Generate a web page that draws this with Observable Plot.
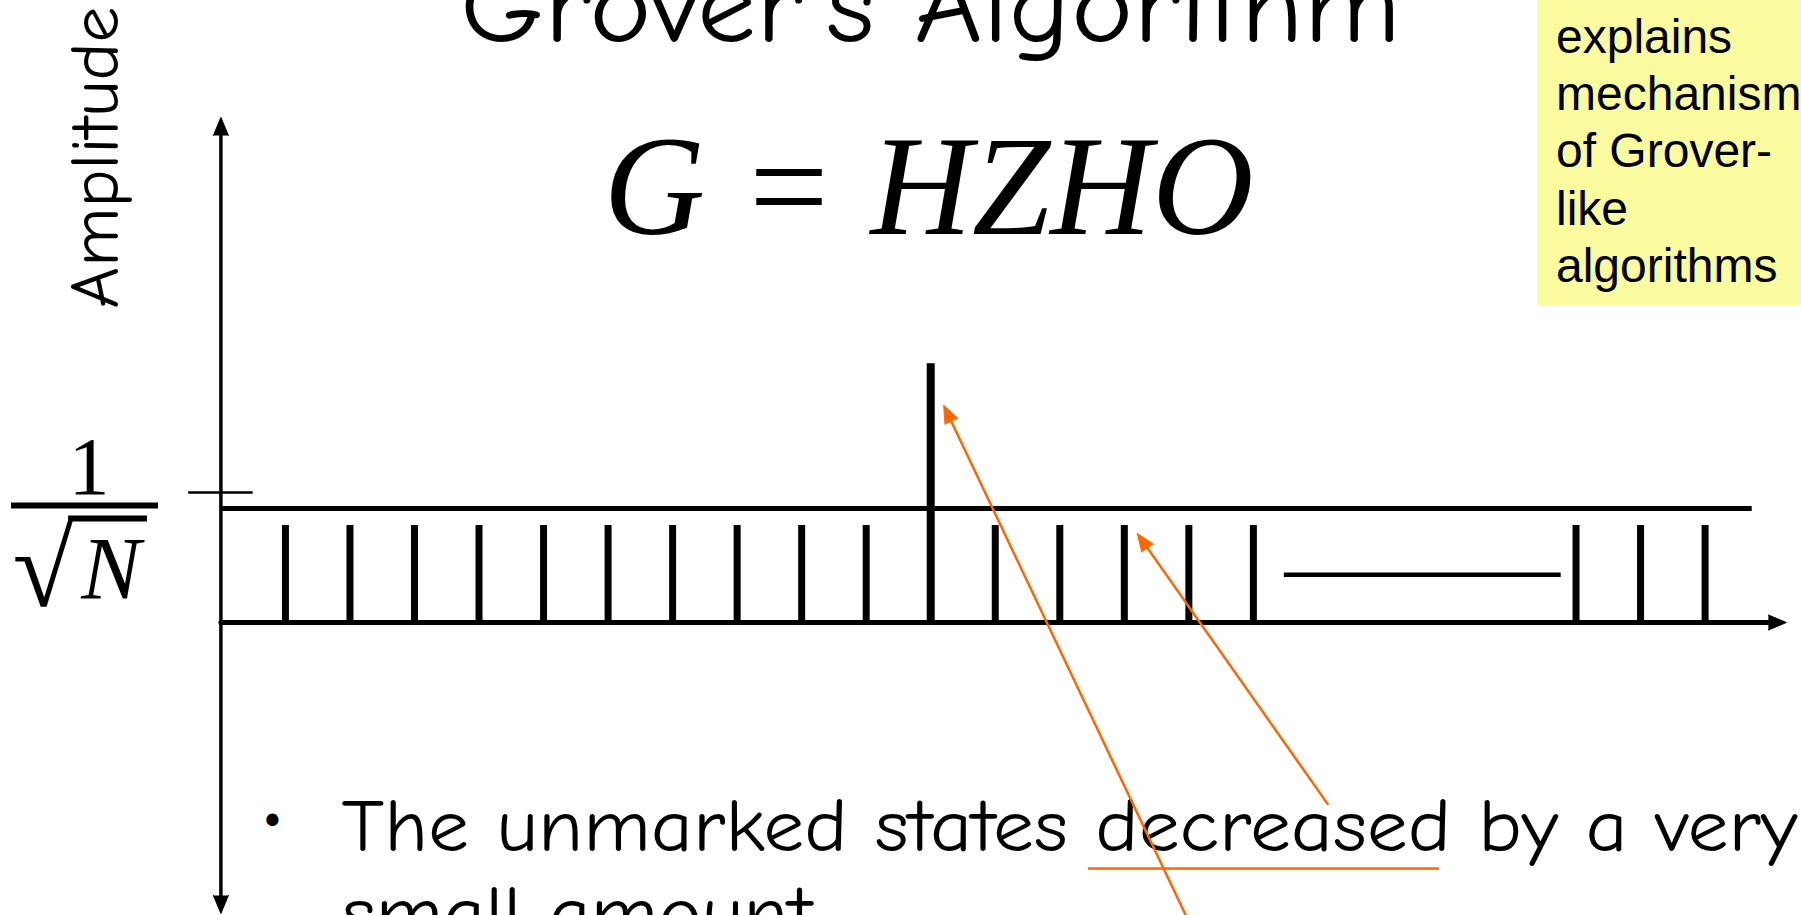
<!DOCTYPE html>
<html>
<head>
<meta charset="utf-8">
<script src="https://cdn.jsdelivr.net/npm/d3@7"></script>
<script src="https://cdn.jsdelivr.net/npm/@observablehq/plot@0.6"></script>
<style>
  html, body { margin: 0; padding: 0; background: #fff; overflow: hidden; }
  #wrap { position: relative; width: 1801px; height: 915px; overflow: hidden; }
  #wrap svg { position: absolute; left: 0; top: 0; display: block; }
  #note {
    position: absolute; left: 1537px; top: 0; width: 264px; height: 305px;
    background: #FAFA9E; box-sizing: border-box; padding: 7.7px 0 0 19px;
    font-family: "Liberation Sans", Arial, sans-serif; font-size: 48px;
    line-height: 57.3px; color: #000; white-space: nowrap; overflow: hidden;
  }
</style>
</head>
<body>
<div id="wrap"><div id="note"></div></div>
<script>
// ---------------- data ----------------
const states      = [1, 2, 3, 4, 5, 6, 7, 8, 9, 10, 11, 12, 13, 14, 15, 16, 21, 22, 23];
const amplitudes  = [0.746, 0.746, 0.746, 0.746, 0.746, 0.746, 0.746, 0.746, 0.746, 0.746,
                     1.99, 0.746, 0.746, 0.746, 0.746, 0.746, 0.746, 0.746, 0.746];
const markedState = 11;
const meanAmplitude = 0.877;          // horizontal "mean" line
const initialAmplitude = 1;           // tick at 1/sqrt(N)
const ellipsisLevel = 0.367;          // "——" between state 16 and state 21
const tickNumerator = "1";
const tickRadical = "√";
const tickDenominator = "N";
const titleText = "Grover's Algorithm";
const formulaText = "G = HZHO";
const yLabel = "Amplitude";
const bulletLines = ["The unmarked states decreased by a very", "small amount"];
const noteLines = ["explains", "mechanism", "of Grover-", "like", "algorithms"];

// ---------------- layout ----------------
const W = 1801, H = 915;
const xDomain = [-3.4155, 24.494];
const yDomain = [-2.2538, 4.7846];
const xAxisEnd = 24.26, yAxisTop = 3.885, yAxisBottom = -2.238;
const meanEnd = 23.73;
const black = "#000", orange = "#FF6600";
const comic = "'Comic Sans MS','Comic Neue','DejaVu Sans',sans-serif";
const serif = "'Liberation Serif','Times New Roman',serif";

const bars = states.map((s, i) => ({state: s, amp: amplitudes[i]}));
const xs = d3.scaleLinear(xDomain, [0, W]);
const ys = d3.scaleLinear(yDomain, [H, 0]);
const angleOf = (a) => Math.atan2(xs(a.x2) - xs(a.x1), -(ys(a.y2) - ys(a.y1))) * 180 / Math.PI;

const peakAmp = amplitudes[states.indexOf(markedState)];
const callouts = [
  {x1: 14.96, y1: -2.26, x2: markedState + 0.2, y2: peakAmp * 0.84},
  {x1: 17.15, y1: -1.395, x2: 14.2, y2: 0.685}
];
const axisLines = [
  {x1: 0, y1: yAxisBottom, x2: 0, y2: yAxisTop},
  {x1: 0, y1: 0, x2: xAxisEnd, y2: 0}
];
const axisHeads = [
  {x: 0, y: yAxisTop, rotate: 0},
  {x: 0, y: yAxisBottom, rotate: 180},
  {x: xAxisEnd, y: 0, rotate: 90}
];
const calloutHeads = callouts.map(c => ({x: c.x2, y: c.y2, rotate: angleOf(c)}));

const svg = Plot.plot({
  width: W, height: H, margin: 0,
  style: {overflow: "hidden", background: "transparent"},
  x: {domain: xDomain, axis: null},
  y: {domain: yDomain, axis: null},
  marks: [
    // axes
    Plot.arrow(axisLines.slice(0, 1), {x1: "x1", y1: "y1", x2: "x2", y2: "y2", headLength: 0, insetStart: 8, insetEnd: 8, stroke: black, strokeWidth: 3.5}),
    Plot.arrow(axisLines.slice(1), {x1: "x1", y1: "y1", x2: "x2", y2: "y2", headLength: 0, insetEnd: 8, stroke: black, strokeWidth: 5}),
    Plot.vector(axisHeads, {x: "x", y: "y", rotate: "rotate", length: 18, r: 7.5, shape: "spike", anchor: "end", fill: black, stroke: black, strokeWidth: 1}),
    // tick at 1/sqrt(N)
    Plot.ruleY([initialAmplitude], {x1: -0.5, x2: 0.5, stroke: black, strokeWidth: 2.5}),
    // mean line
    Plot.ruleY([meanAmplitude], {x1: 0, x2: meanEnd, stroke: black, strokeWidth: 5}),
    // amplitude bars
    Plot.ruleX(bars.filter(d => d.state !== markedState), {x: "state", y1: 0, y2: "amp", stroke: black, strokeWidth: 7}),
    Plot.ruleX(bars.filter(d => d.state === markedState), {x: "state", y1: 0, y2: "amp", stroke: black, strokeWidth: 8}),
    // ellipsis dash
    Plot.ruleY([ellipsisLevel], {x1: 16.48, x2: 20.77, stroke: black, strokeWidth: 4.5}),
    // tick label 1/sqrt(N)
    Plot.text([initialAmplitude], {x: 0, y: d => d, text: () => tickNumerator, dx: -132, dy: 1, textAnchor: "middle", lineAnchor: "bottom", fontSize: 82, fontFamily: serif, fill: black}),
    Plot.ruleY([initialAmplitude], {x1: -3.245, x2: -0.967, dy: 13, stroke: black, strokeWidth: 6}),
    Plot.text([initialAmplitude], {x: 0, y: d => d, text: () => tickRadical, dx: -208.5, dy: 113, textAnchor: "start", lineAnchor: "bottom", fontSize: 112, fontWeight: "bold", fontFamily: serif, fill: black}),
    Plot.ruleY([initialAmplitude], {x1: -2.36, x2: -1.137, dy: 26, stroke: black, strokeWidth: 6}),
    Plot.text([initialAmplitude], {x: 0, y: d => d, text: () => tickDenominator, dx: -110, dy: 105, textAnchor: "middle", lineAnchor: "bottom", fontSize: 89, fontStyle: "italic", fontFamily: serif, fill: black}),
    // texts
    Plot.text([titleText], {text: d => d, frameAnchor: "top-left", dx: 930, dy: 40, textAnchor: "middle", lineAnchor: "bottom", fontSize: 108, fontFamily: comic, fill: black}),
    Plot.text([formulaText], {text: d => d, frameAnchor: "top-left", dx: 928, dy: 233, textAnchor: "middle", lineAnchor: "bottom", fontSize: 142, fontStyle: "italic", fontFamily: serif, fill: black}),
    Plot.text([yLabel], {text: d => d, frameAnchor: "top-left", dx: 117, dy: 157, rotate: -90, textAnchor: "middle", lineAnchor: "bottom", fontSize: 68, fontFamily: comic, fill: black}),
    Plot.text(["•"], {text: d => d, frameAnchor: "top-left", dx: 272, dy: 822, textAnchor: "middle", lineAnchor: "middle", fontSize: 42, fontFamily: "'DejaVu Sans',sans-serif", fill: black}),
    Plot.text([bulletLines[0]], {text: d => d, frameAnchor: "top-left", dx: 341, dy: 850, textAnchor: "start", lineAnchor: "bottom", fontSize: 75, fontFamily: comic, fill: black}),
    Plot.text([bulletLines[1]], {text: d => d, frameAnchor: "top-left", dx: 341, dy: 937, textAnchor: "start", lineAnchor: "bottom", fontSize: 75, fontFamily: comic, fill: black}),
    // orange callouts
    Plot.ruleY([-1.892], {x1: 13.445, x2: 18.884, stroke: orange, strokeWidth: 2.5}),
    Plot.arrow(callouts, {x1: "x1", y1: "y1", x2: "x2", y2: "y2", headLength: 0, insetEnd: 8, stroke: orange, strokeWidth: 2.5}),
    Plot.vector(calloutHeads, {x: "x", y: "y", rotate: "rotate", length: 18, r: 7, shape: "spike", anchor: "end", fill: orange, stroke: orange, strokeWidth: 1})
  ]
});

const wrap = document.getElementById("wrap");
wrap.prepend(svg);
document.getElementById("note").innerHTML = noteLines.map(l => `<div>${l}</div>`).join("");

// fit text widths to the reference
const fits = {[titleText]: 941, [formulaText]: 650, [yLabel]: 302};
let line1 = null, line2 = null;
svg.querySelectorAll("text").forEach(t => {
  const s = t.textContent;
  if (fits[s]) { t.setAttribute("textLength", fits[s]); t.setAttribute("lengthAdjust", "spacingAndGlyphs"); }
  if (s === bulletLines[0]) line1 = t;
  if (s === bulletLines[1]) line2 = t;
});
if (line1 && line2) {
  const k = 1456 / line1.getComputedTextLength();
  const w2 = line2.getComputedTextLength() * k;
  line1.setAttribute("textLength", 1456); line1.setAttribute("lengthAdjust", "spacingAndGlyphs");
  line2.setAttribute("textLength", w2); line2.setAttribute("lengthAdjust", "spacingAndGlyphs");
}
</script>
</body>
</html>
